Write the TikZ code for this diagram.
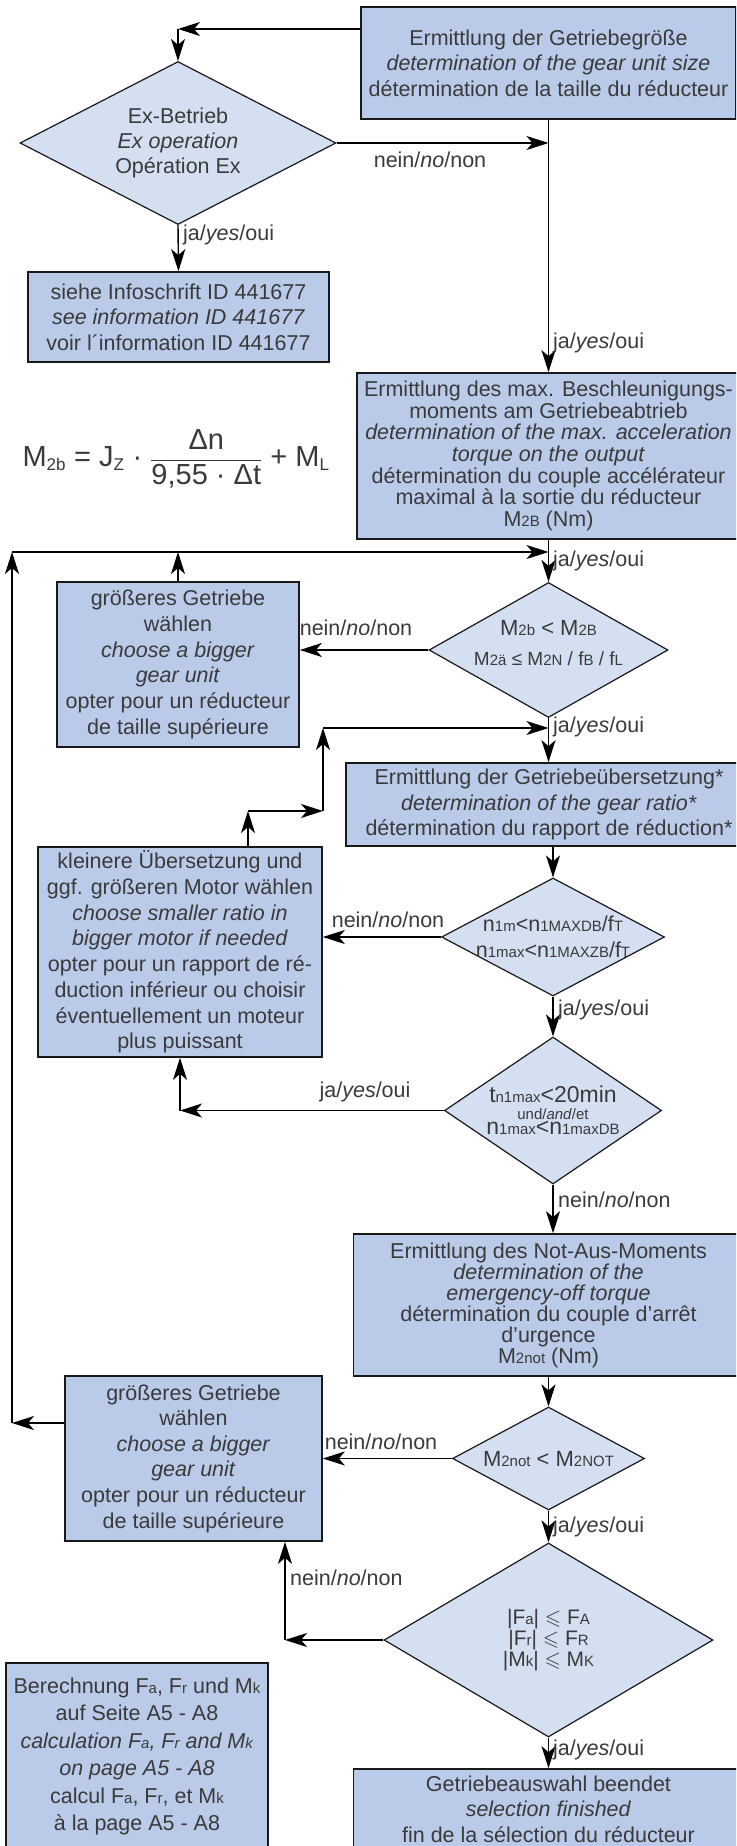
\documentclass[tikz,border=0pt]{standalone}
\usepackage{amssymb}
\usepackage{fontspec}
\setmainfont{Liberation Sans}
\usetikzlibrary{arrows.meta,shapes.geometric}
\definecolor{boxblue}{RGB}{186,203,234}
\definecolor{decblue}{RGB}{212,224,242}
\definecolor{txtgray}{RGB}{58,58,58}
\newcommand{\smtx}[1]{{\fontsize{15}{15}\selectfont #1}}
\newcommand{\fsub}[1]{\mbox{\fontsize{17}{17}\selectfont #1}}
\begin{document}
\begin{tikzpicture}
		[x=1pt, y=-1pt,
		gbox/.style={draw=black!90, line width=1.7pt, fill=boxblue, text=txtgray, align=center, inner sep=0pt, font=\fontsize{21.5}{25.5}\selectfont},
		gdec/.style={diamond, draw=black!90, line width=1.2pt, fill=decblue, inner sep=0pt},
		gtext/.style={text=txtgray, align=center, inner sep=0pt},
		glabel/.style={text=txtgray, inner sep=1pt, font=\fontsize{21.5}{25}\selectfont},
		garrow/.style={draw=black, line width=1.4pt, -{Stealth[length=22pt,width=14pt,inset=6pt]}}]
		\fill[white] (0,0) rectangle (736,1846);
		\useasboundingbox (0,0) rectangle (736,1846);
		\clip (0,0) rectangle (736,1846);
		\node[gbox, minimum width=375pt, minimum height=112pt] (gsize) at (548.5,63)
			{Ermittlung der Getriebegröße\\\textit{determination of the gear unit size}\\détermination de la taille du réducteur};
		\node[gdec, minimum width=316pt, minimum height=163pt,
			label={[gtext, font=\fontsize{21.5}{25}\selectfont]center:Ex-Betrieb\\\textit{Ex operation}\\Opération Ex}] (exop) at (178,143) {};
		\node[gbox, minimum width=301pt, minimum height=90pt] (info) at (178.5,317)
			{siehe Infoschrift ID 441677\\\textit{see information ID 441677}\\voir l´information ID 441677};
		\node[gbox, minimum width=383pt, minimum height=166pt, font=\fontsize{21.5}{21.7}\selectfont] (accel) at (548.5,456)
			{Ermittlung des max. Beschleunigungs-\\moments am Getriebeabtrieb\\\textit{determination of the max. acceleration}\\\textit{torque on the output}\\détermination du couple accélérateur\\maximal à la sortie du réducteur\\M\smtx{2B} (Nm)};
		\node[gtext, font=\fontsize{29}{34}\selectfont] (formula) at (176,459)
			{$\mbox{M}_{\fsub{2b}}\mbox{ = J}_{\fsub{Z}}\mbox{ · }{\displaystyle\frac{\mbox{Δn}}{\mbox{9,55 · Δt}}}\mbox{ + M}_{\fsub{L}}$};
		\node[gdec, minimum width=239pt, minimum height=135pt,
			label={[gtext, yshift=7pt, font=\fontsize{22}{30}\selectfont]center:M\smtx{2b} < M\smtx{2B}\\{\fontsize{19}{19}\selectfont M\smtx{2ä} ≤ M\smtx{2N} / f\smtx{B} / f\smtx{L}}}] (check1) at (548.5,650) {};
		\node[gbox, minimum width=242pt, minimum height=165pt, font=\fontsize{21.5}{25.8}\selectfont] (bigger1) at (178,664.5)
			{größeres Getriebe\\wählen\\\textit{choose a bigger}\\\textit{gear unit}\\opter pour un réducteur\\de taille supérieure};
		\node[gbox, minimum width=406pt, minimum height=83pt] (ratio) at (549,804.5)
			{Ermittlung der Getriebeübersetzung*\\\textit{determination of the gear ratio*}\\détermination du rapport de réduction*};
		\node[gdec, minimum width=223pt, minimum height=118pt,
			label={[gtext, font=\fontsize{21.5}{25.5}\selectfont]center:n\smtx{1m}<n\smtx{1MAXDB}/f\smtx{T}\\n\smtx{1max}<n\smtx{1MAXZB}/f\smtx{T}}] (check2) at (553,937) {};
		\node[gbox, minimum width=284pt, minimum height=210pt, font=\fontsize{21.5}{25.7}\selectfont] (smaller) at (180,952)
			{kleinere Übersetzung und\\ggf. größeren Motor wählen\\\textit{choose smaller ratio in}\\\textit{bigger motor if needed}\\opter pour un rapport de ré-\\duction inférieur ou choisir\\éventuellement un moteur\\plus puissant};
		\node[gdec, minimum width=217pt, minimum height=147pt,
			label={[gtext, font=\fontsize{23}{18}\selectfont]center:t\smtx{n1max}<20min\\[-1pt]{\fontsize{15}{15}\selectfont und/\textit{and}/et}\\[-3pt]n\smtx{1max}<n\smtx{1maxDB}}] (check3) at (553,1110.5) {};
		\node[gbox, minimum width=390pt, minimum height=142pt, font=\fontsize{21.5}{21}\selectfont] (emerg) at (548.5,1305)
			{Ermittlung des Not-Aus-Moments\\\textit{determination of the}\\\textit{emergency-off torque}\\détermination du couple d'arrêt\\d'urgence\\M\smtx{2not} (Nm)};
		\node[gdec, minimum width=192pt, minimum height=103pt,
			label={[gtext, font=\fontsize{22}{25}\selectfont]center:M\smtx{2not} < M\smtx{2NOT}}] (check4) at (548.5,1458.5) {};
		\node[gbox, minimum width=257pt, minimum height=165pt, font=\fontsize{21.5}{25.6}\selectfont] (bigger2) at (193.5,1458.5)
			{größeres Getriebe\\wählen\\\textit{choose a bigger}\\\textit{gear unit}\\opter pour un réducteur\\de taille supérieure};
		\node[gdec, minimum width=329pt, minimum height=194pt,
			label={[gtext, font=\fontsize{21}{20.6}\selectfont]center:|F\smtx{a}| $\leqslant$ F\smtx{A}\\|F\smtx{r}| $\leqslant$ F\smtx{R}\\|M\smtx{k}| $\leqslant$ M\smtx{K}}] (check5) at (548.5,1640) {};
		\node[gbox, minimum width=262pt, minimum height=187pt, font=\fontsize{21.5}{27.4}\selectfont] (calc) at (137,1756.5)
			{Berechnung F\smtx{a}, F\smtx{r} und M\smtx{k}\\auf Seite A5 - A8\\\textit{calculation F\smtx{a}, F\smtx{r} and M\smtx{k}}\\\textit{on page A5 - A8}\\calcul F\smtx{a}, F\smtx{r}, et M\smtx{k}\\à la page A5 - A8};
		\node[gbox, minimum width=390pt, minimum height=80pt] (final) at (548.5,1809)
			{Getriebeauswahl beendet\\\textit{selection finished}\\fin de la sélection du réducteur};
		\coordinate (c1) at (178,29);
		\coordinate (c3) at (12,552);
		\coordinate (c4) at (323,728);
		\coordinate (c5) at (323,811);
		\coordinate (c6) at (248,811);
		\coordinate (c7) at (180,1110.5);
		\coordinate (c8) at (12,1423);
		\coordinate (c9) at (285,1640);
		\draw[garrow] (gsize.west |- c1) -- (c1);
		\draw[garrow] (c1) -- (exop.north);
		\draw[garrow] (exop.east) -- (exop.east -| gsize.south);
		\draw[garrow] (gsize.south) -- (accel.north);
		\draw[garrow] (exop.south) -- (info.north);
		\draw[garrow] (accel.south) -- (check1.north);
		\draw[garrow] (c3) -- (c3 -| accel.south);
		\draw[garrow] (bigger1.north) -- (bigger1.north |- c3);
		\draw[garrow] (check1.west) -- (check1.west -| bigger1.east);
		\draw[garrow] (check1.south) -- (check1.south |- ratio.north);
		\draw[garrow] (c4) -- (c4 -| check1.south);
		\draw[garrow] (c5) -- (c4);
		\draw[garrow] (c6) -- (c5);
		\draw[garrow] (smaller.north -| c6) -- (c6);
		\draw[garrow] (ratio.south -| check2.north) -- (check2.north);
		\draw[garrow] (check2.west) -- (check2.west -| smaller.east);
		\draw[garrow] (check2.south) -- (check3.north);
		\draw[garrow] (check3.west) -- (c7);
		\draw[garrow] (c7) -- (c7 |- smaller.south);
		\draw[garrow] (check3.south) -- (check3.south |- emerg.north);
		\draw[garrow] (emerg.south) -- (check4.north);
		\draw[garrow] (check4.west) -- (check4.west -| bigger2.east);
		\draw[garrow] (bigger2.west |- c8) -- (c8);
		\draw[garrow] (c8) -- (c3);
		\draw[garrow] (check4.south) -- (check5.north);
		\draw[garrow] (check5.west) -- (c9);
		\draw[garrow] (c9) -- (c9 |- bigger2.south);
		\draw[garrow] (check5.south) -- (final.north);
		\node[glabel] (l1) at (430,160) {nein/\textit{no}/non};
		\node[glabel, anchor=west] (l2) at (182,235) {ja/\textit{yes}/oui};
		\node[glabel, anchor=west] (l3) at (552,343) {ja/\textit{yes}/oui};
		\node[glabel, anchor=west] (l4) at (552,561) {ja/\textit{yes}/oui};
		\node[glabel] (l5) at (356,628) {nein/\textit{no}/non};
		\node[glabel, anchor=west] (l6) at (552,727) {ja/\textit{yes}/oui};
		\node[glabel] (l7) at (388,920) {nein/\textit{no}/non};
		\node[glabel, anchor=west] (l8) at (557,1010) {ja/\textit{yes}/oui};
		\node[glabel] (l9) at (365,1092) {ja/\textit{yes}/oui};
		\node[glabel, anchor=west] (l10) at (557,1200) {nein/\textit{no}/non};
		\node[glabel] (l11) at (381,1442) {nein/\textit{no}/non};
		\node[glabel, anchor=west] (l12) at (552,1527) {ja/\textit{yes}/oui};
		\node[glabel, anchor=west] (l13) at (289,1578) {nein/\textit{no}/non};
		\node[glabel, anchor=west] (l14) at (552,1750) {ja/\textit{yes}/oui};
\end{tikzpicture}
\end{document}
